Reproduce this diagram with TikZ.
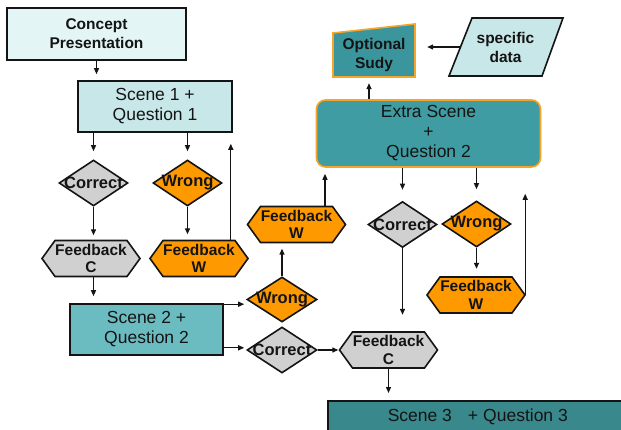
\documentclass[tikz,border=0pt]{standalone}
\usepackage{fontspec}
\setmainfont{Liberation Sans}
\usetikzlibrary{arrows.meta,shapes.geometric,calc}
\definecolor{conceptbg}{HTML}{E4F5F5}
\definecolor{lightteal}{HTML}{C8E7E9}
\definecolor{midteal}{HTML}{6BBCC1}
\definecolor{teal}{HTML}{3F9CA2}
\definecolor{optteal}{HTML}{3A969C}
\definecolor{darkteal}{HTML}{39888C}
\definecolor{orangefill}{HTML}{FF9900}
\definecolor{orangeline}{HTML}{F5A52A}
\definecolor{greyfill}{HTML}{D0D0D0}
\definecolor{ink}{HTML}{141414}
\newcommand\myhex[5]{%
  \filldraw[shapeline,fill=#4] (#2-49,#3) -- (#2-36,#3-18) -- (#2+36,#3-18) -- (#2+49,#3) -- (#2+36,#3+18) -- (#2-36,#3+18) -- cycle;
  \node[hexlabel] (#1) at (#2,#3) {#5};}
\begin{document}
\begin{tikzpicture}[x=1pt,y=-1pt,
  shapeline/.style={draw=ink,line width=1.6pt,line join=miter},
  boxbase/.style={shapeline,rectangle,inner sep=0pt,align=center,text=ink},
  rtext/.style={font=\fontsize{17.5}{20}\selectfont},
  btext/.style={font=\fontsize{15.5}{19}\selectfont\bfseries},
  hexlabel/.style={rectangle,inner sep=0pt,minimum width=98pt,minimum height=36pt,align=center,text=ink,font=\fontsize{15.5}{17.5}\selectfont\bfseries},
  dia/.style={shapeline,diamond,inner sep=0pt,minimum width=69pt,minimum height=46pt,text=ink,font=\fontsize{16.5}{17}\selectfont\bfseries},
  arr/.style={draw=ink,line width=1.3pt,-{Triangle[length=6pt,width=5pt]}}]
\useasboundingbox (0,0) rectangle (621,430);
\fill[white] (0,0) rectangle (621,430);

% rectangles
\node[boxbase,btext,fill=conceptbg,minimum width=179pt,minimum height=52pt] (concept) at (96.5,34) {Concept\\Presentation};
\node[boxbase,rtext,fill=lightteal,minimum width=154pt,minimum height=51pt] (scene1) at (155,106.5) {Scene 1 +\\Question 1};
\node[boxbase,rtext,fill=midteal,minimum width=153pt,minimum height=51pt] (scene2) at (146.5,329.5) {Scene 2 +\\Question 2};
\node[boxbase,rtext,fill=teal,draw=orangeline,rounded corners=9pt,minimum width=224pt,minimum height=67pt] (extra) at (428.5,133.5) {Extra Scene\\+\\Question 2};
\node[boxbase,rtext,fill=darkteal,anchor=north west,minimum width=300pt,minimum height=33pt] (scene3) at (327,400) {Scene 3\hspace{16pt}+\hspace{5pt}Question 3};

% optional study (manual input shape)
\filldraw[shapeline,draw=orangeline,fill=optteal] (333,77) -- (333,33) -- (415,24) -- (415,77) -- cycle;
\node[rectangle,inner sep=0pt,minimum width=82pt,minimum height=44pt,align=center,text=ink,btext] (opt) at (374,55) {Optional\\Sudy};

% specific data (parallelogram)
\filldraw[shapeline,fill=lightteal] (449,76) -- (472,18) -- (563,18) -- (542,76) -- cycle;
\node[rectangle,inner sep=0pt,align=center,text=ink,btext] (spec) at (505.5,47.5) {specific\\data};
\coordinate (specL) at (460,47);

% diamonds
\node[dia,fill=greyfill] (correct1) at (93.5,183) {\makebox[0pt]{Correct}};
\node[dia,fill=orangefill] (wrong1) at (187.5,183) {\makebox[0pt]{Wrong}};
\node[dia,fill=orangefill,minimum width=70pt,minimum height=45pt] (wrong2) at (282,299.5) {\makebox[0pt]{Wrong}};
\node[dia,fill=greyfill,minimum width=70pt,minimum height=46pt] (correct2) at (282,350) {\makebox[0pt]{Correct}};
\node[dia,fill=greyfill] (correct3) at (402.5,224.5) {\makebox[0pt]{Correct}};
\node[dia,fill=orangefill] (wrong3) at (476.5,224) {\makebox[0pt]{Wrong}};

% hexagons
\myhex{fbc1}{91}{258.5}{greyfill}{Feedback\\C}
\myhex{fbw1}{199}{258.5}{orangefill}{Feedback\\W}
\myhex{fbw2}{296.5}{224.5}{orangefill}{Feedback\\W}
\myhex{fbc2}{388.5}{350}{greyfill}{Feedback\\C}
\myhex{fbw3}{476}{295}{orangefill}{Feedback\\W}

% connectors
\draw[arr,shorten >=6pt] (concept.south) -- (concept.south |- scene1.north);
\draw[arr,shorten >=8pt] (correct1.north |- scene1.south) -- (correct1.north);
\draw[arr,shorten >=8pt] (wrong1.north |- scene1.south) -- (wrong1.north);
\draw[arr,shorten >=5pt] (correct1.south) -- (correct1.south |- fbc1.north);
\draw[arr,shorten >=6pt] (wrong1.south) -- (wrong1.south |- fbw1.north);
\draw[arr,shorten >=11pt] ([xshift=-2pt]fbw1.north -| scene1.south east) -- ([xshift=-2pt]scene1.south east);
\draw[arr,shorten >=7pt] (fbc1.south -| correct1.south) -- (scene2.north -| correct1.south);
\draw[arr,shorten >=2pt] ([yshift=-1pt]scene2.north east) -- ([yshift=-1pt]scene2.north east -| wrong2.west);
\draw[arr,shorten >=2pt] ([yshift=8pt]scene2.south east) -- ([yshift=8pt]scene2.south east -| correct2.west);
\draw[arr,shorten >=1pt] (correct2.east) -- (fbc2.west);
\draw[arr,shorten >=6pt] (wrong2.north) -- (wrong2.north |- fbw2.south);
\draw[arr,shorten >=6pt] ([xshift=28.5pt]fbw2.north) -- ([xshift=28.5pt]fbw2.north |- extra.south);
\draw[arr,shorten >=7pt] (fbc2.south) -- (fbc2.south |- scene3.north);
\draw[arr,shorten >=6pt] ([xshift=-5pt]opt.south |- extra.north) -- ([xshift=-5pt]opt.south);
\draw[arr,shorten >=12pt] (specL) -- (specL -| opt.east);
\draw[arr,shorten >=11pt] (correct3.north |- extra.south) -- (correct3.north);
\draw[arr,shorten >=11pt] (wrong3.north |- extra.south) -- (wrong3.north);
\draw[arr,shorten >=17pt] (correct3.south) -- (correct3.south |- fbc2.north);
\draw[arr,shorten >=8pt] (wrong3.south) -- (wrong3.south |- fbw3.north);
\draw[arr,shorten >=26pt] (fbw3.east) -- (fbw3.east |- extra.south);
\end{tikzpicture}
\end{document}
